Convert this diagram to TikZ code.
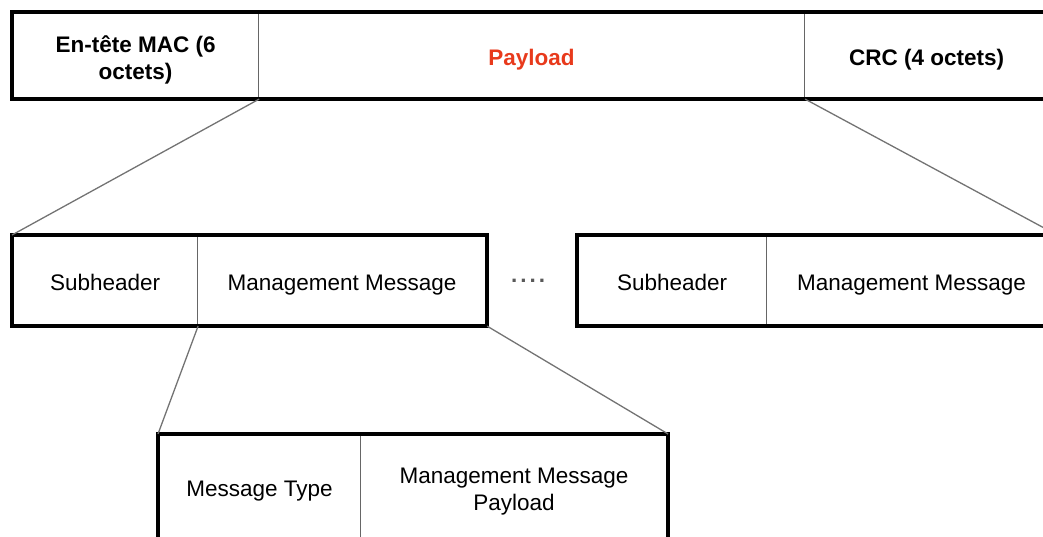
\documentclass[tikz,border=0pt]{standalone}
\usepackage{fontspec}
\setmainfont{Liberation Sans}
\definecolor{payred}{RGB}{232,58,28}
\newcommand\cellstrut{\rule[-5pt]{0pt}{30pt}}
\newcommand\lowstrut{\rule[-5pt]{0pt}{5pt}}
\begin{document}
\begin{tikzpicture}[x=1pt,y=-1pt,
  cell/.style={rectangle, draw=black!60, line width=1.1pt, anchor=north west,
    inner sep=0pt, align=center, font=\fontsize{22.5}{27}\selectfont},
  frame/.style={draw=black, line width=3.6pt},
  link/.style={draw=black!55, line width=1.3pt}]
\useasboundingbox (0,0) rectangle (1043,536);
\clip (0,0) rectangle (1043,536);
% top row
\node[cell, minimum width=246pt, minimum height=86pt] (mac) at (12,12)
  {\cellstrut\textbf{En-tête MAC (6}\\\lowstrut\textbf{octets)}};
\node[cell, minimum width=546pt, minimum height=86pt, text=payred] (pay) at (258,12)
  {\cellstrut\textbf{Payload}};
\node[cell, minimum width=244pt, minimum height=86pt] (crc) at (804,12)
  {\cellstrut\textbf{CRC (4 octets)}};
\draw[frame] (mac.north west) rectangle (crc.south east);
% middle left
\node[cell, minimum width=185pt, minimum height=90pt] (sub1) at (12,235) {\cellstrut Subheader};
\node[cell, minimum width=289pt, minimum height=90pt] (mm1) at (197,235) {\cellstrut Management Message};
\draw[frame] (sub1.north west) rectangle (mm1.south east);
% dots
\node[text=black!65, inner sep=0pt, font=\fontsize{22.5}{27}\bfseries] (dots) at (528,281)
  {.\hspace{3pt}.\hspace{3pt}.\hspace{3pt}.};
% middle right
\node[cell, minimum width=189pt, minimum height=90pt] (sub2) at (577,235) {\cellstrut Subheader};
\node[cell, minimum width=290pt, minimum height=90pt] (mm2) at (766,235) {\cellstrut Management Message};
\draw[frame] (sub2.north west) rectangle (mm2.south east);
% bottom
\node[cell, minimum width=202pt, minimum height=104pt] (mt) at (158,434) {\cellstrut Message Type};
\node[cell, minimum width=307pt, minimum height=104pt] (mmp) at (360,434)
  {\cellstrut Management Message\\\lowstrut Payload};
\draw[frame] (mt.north west) rectangle (mmp.south east);
% connectors
\draw[link] (mac.south east) -- (sub1.north west);
\draw[link] (pay.south east) -- (mm2.north east);
\draw[link] (sub1.south east) -- (mt.north west);
\draw[link] (mm1.south east) -- (mmp.north east);
\end{tikzpicture}
\end{document}
